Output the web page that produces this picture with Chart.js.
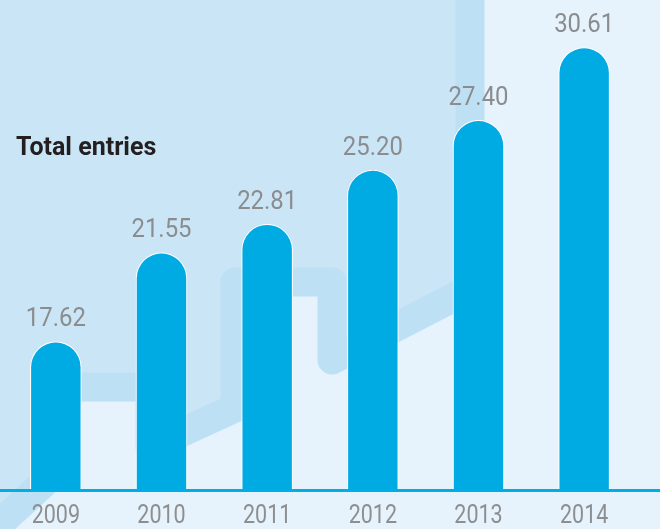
<!DOCTYPE html>
<html>
<head>
<meta charset="utf-8">
<script src="https://cdn.jsdelivr.net/npm/chart.js@4.4.1/dist/chart.umd.min.js"></script>
<style>
  html, body { margin: 0; padding: 0; background: #e6f3fc; }
  #wrap { width: 660px; height: 529px; position: relative; }
</style>
</head>
<body>
<div id="wrap"><canvas id="entries"></canvas></div>
<script>
/* Total entries, 2009–2014 */
const YEARS   = ['2009', '2010', '2011', '2012', '2013', '2014'];
const ENTRIES = [17.62, 21.55, 22.81, 25.20, 27.40, 30.61];
const TITLE   = 'Total entries';

// axis is cut off below zero, as in the artwork
const Y_MIN = 11.1;
const Y_MAX = 32.25;

const C = {
  bar:      '#00abe4',
  light:    '#e6f3fc',
  upper:    '#c9e5f6',
  band:     '#bde0f5',
  value:    '#8b8c8e',
  year:     '#8d8e90',
  title:    '#231f20'
};

// squeezed text, the original face is a condensed DIN
function squeezed(ctx, text, x, y, sx) {
  ctx.save();
  ctx.translate(x, y);
  ctx.scale(sx, 1);
  ctx.fillText(text, 0, 0);
  ctx.restore();
}

const backdrop = {
  id: 'backdrop',
  beforeDraw(chart) {
    const ctx = chart.ctx;
    const w = chart.width, h = chart.height;
    ctx.save();
    ctx.fillStyle = C.light;
    ctx.fillRect(0, 0, w, h);

    // decorative stepped arrow behind the bars
    const path = [
      [-40, 560], [45, 482], [45, 387], [150, 387], [150, 447],
      [235, 408], [235, 282], [332, 282], [332, 360], [470, 289], [470, -30]
    ];
    ctx.beginPath();
    ctx.moveTo(-40, -30);
    path.forEach(function (p) { ctx.lineTo(p[0], p[1]); });
    ctx.closePath();
    ctx.fillStyle = C.upper;
    ctx.fill();

    ctx.beginPath();
    path.forEach(function (p, i) { i ? ctx.lineTo(p[0], p[1]) : ctx.moveTo(p[0], p[1]); });
    ctx.lineWidth = 29;
    ctx.lineJoin = 'round';
    ctx.lineCap = 'round';
    ctx.strokeStyle = C.band;
    ctx.stroke();
    ctx.restore();
  }
};

const labels = {
  id: 'labels',
  afterDatasetsDraw(chart) {
    const ctx = chart.ctx;
    const area = chart.chartArea;
    const meta = chart.getDatasetMeta(0);
    const x = chart.scales.x;
    ctx.save();

    // axis line across the full width
    ctx.fillStyle = '#00aee6';
    ctx.fillRect(0, area.bottom, chart.width, 3);

    ctx.textAlign = 'center';
    ctx.textBaseline = 'alphabetic';

    ctx.font = '26px Roboto';
    ctx.fillStyle = C.value;
    meta.data.forEach(function (bar, i) {
      squeezed(ctx, ENTRIES[i].toFixed(2), bar.x, bar.y - 15, 0.92);
    });

    ctx.font = '25px Roboto';
    ctx.fillStyle = C.year;
    YEARS.forEach(function (y, i) {
      squeezed(ctx, y, x.getPixelForValue(i), area.bottom + 34, 0.86);
    });

    ctx.textAlign = 'left';
    ctx.font = 'bold 25px Roboto';
    ctx.fillStyle = C.title;
    ctx.fillText(TITLE, 16, 155);
    ctx.restore();
  }
};

new Chart(document.getElementById('entries'), {
  type: 'bar',
  data: {
    labels: YEARS,
    datasets: [{
      label: TITLE,
      data: ENTRIES,
      backgroundColor: C.bar,
      borderColor: 'rgba(255,255,255,0.95)',
      borderWidth: 1.2,
      borderSkipped: 'bottom',
      borderRadius: { topLeft: 40, topRight: 40, bottomLeft: 0, bottomRight: 0 },
      categoryPercentage: 1,
      barPercentage: 0.49
    }]
  },
  options: {
    responsive: true,
    maintainAspectRatio: false,
    animation: false,
    layout: { padding: { left: 3, right: 23, top: 10, bottom: 40 } },
    plugins: {
      legend: { display: false },
      tooltip: { enabled: false }
    },
    scales: {
      x: { display: false },
      y: { display: false, min: Y_MIN, max: Y_MAX }
    }
  },
  plugins: [backdrop, labels]
});
</script>
</body>
</html>
